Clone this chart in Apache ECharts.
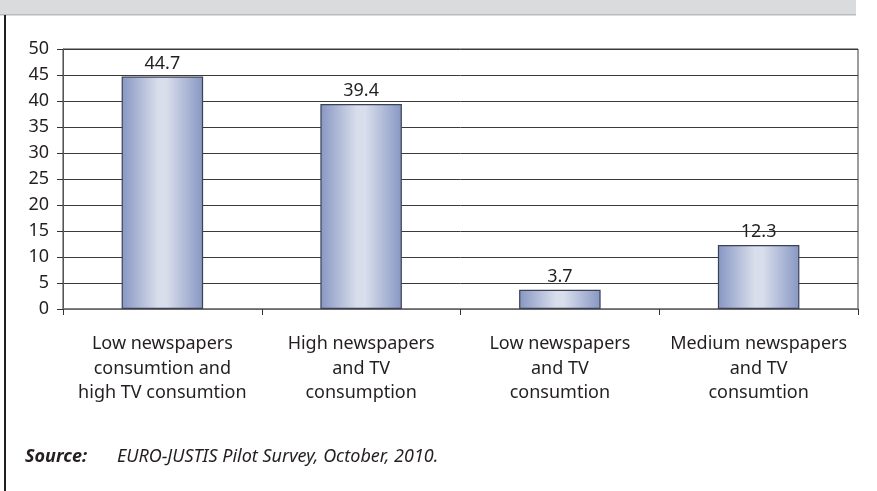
<!DOCTYPE html>
<html>
<head>
<meta charset="utf-8">
<script src="https://cdn.jsdelivr.net/npm/echarts@6/dist/echarts.min.js"></script>
<style>
  html, body { margin: 0; padding: 0; background: #fff; }
  #chart { width: 877px; height: 491px; }
</style>
</head>
<body>
<div id="chart"></div>
<script>
// Media consumption groups and their shares
const categories = [
  'Low newspapers\nconsumtion and\nhigh TV consumtion',
  'High newspapers\nand TV\nconsumption',
  'Low newspapers\nand TV\nconsumtion',
  'Medium newspapers\nand TV\nconsumtion'
];
const values = [44.7, 39.4, 3.7, 12.3];
const yTicks = [0, 5, 10, 15, 20, 25, 30, 35, 40, 45, 50];

const FONT = '"Noto Sans", "Open Sans", sans-serif';
const INK = '#231f20';

const chart = echarts.init(document.getElementById('chart'), null, { renderer: 'canvas' });

const barFill = new echarts.graphic.LinearGradient(0, 0, 1, 0, [
  { offset: 0, color: '#8797c3' },
  { offset: 0.45, color: '#d9deec' },
  { offset: 0.55, color: '#d9deec' },
  { offset: 1, color: '#8797c3' }
]);

chart.setOption({
  animation: false,
  backgroundColor: '#ffffff',
  grid: {
    left: 63, right: 19, top: 49, bottom: 182,
    show: true, borderColor: '#3a3a3a', borderWidth: 1
  },
  xAxis: {
    type: 'category',
    data: categories,
    axisLine: { lineStyle: { color: '#7a7a7a', width: 1.5 } },
    axisTick: { show: true, length: 6, lineStyle: { color: '#333' } },
    axisLabel: {
      interval: 0, color: INK, fontFamily: FONT, fontSize: 18,
      lineHeight: 24.5, margin: 23
    }
  },
  yAxis: {
    type: 'value',
    min: yTicks[0], max: yTicks[yTicks.length - 1], interval: 5,
    axisLine: { show: true, lineStyle: { color: '#555' } },
    axisTick: { show: true, length: 6, lineStyle: { color: '#333' } },
    axisLabel: { color: INK, fontFamily: FONT, fontSize: 18, margin: 14 },
    splitLine: { lineStyle: { color: '#3a3a3a', width: 1 } }
  },
  series: [{
    type: 'bar',
    data: values,
    barWidth: '41%',
    itemStyle: { color: barFill, borderColor: '#3c4256', borderWidth: 1.2 },
    label: {
      show: true, position: 'top', distance: 4,
      color: INK, fontFamily: FONT, fontSize: 18
    }
  }],
  graphic: [
    { type: 'rect', shape: { x: 0, y: 0, width: 856, height: 15 },
      style: { fill: '#dadbdd' }, silent: true },
    { type: 'rect', shape: { x: 0, y: 14, width: 856, height: 1.5 },
      style: { fill: '#b9babc' }, silent: true },
    { type: 'rect', shape: { x: 4, y: 15, width: 2, height: 476 },
      style: { fill: '#231f20' }, silent: true },
    { type: 'text', left: 25, top: 448,
      style: { text: 'Source:', fill: INK, font: 'italic bold 18px ' + FONT } },
    { type: 'text', left: 117, top: 448,
      style: { text: 'EURO-JUSTIS Pilot Survey, October, 2010.', fill: INK, font: 'italic 18px ' + FONT } }
  ]
});
</script>
</body>
</html>
